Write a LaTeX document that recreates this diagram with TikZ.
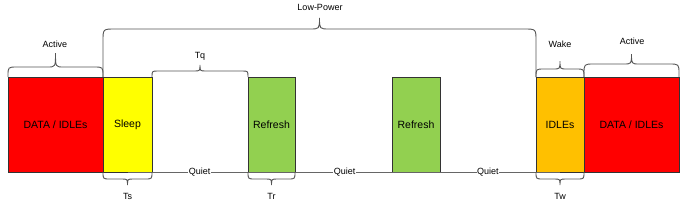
\documentclass[tikz,border=0pt]{standalone}
\usepackage{fontspec}
\setmainfont{Liberation Sans}
\definecolor{cred}{HTML}{FF0000}
\definecolor{cyellow}{HTML}{FFFF00}
\definecolor{cgreen}{HTML}{92D050}
\definecolor{corange}{HTML}{FFC000}
\definecolor{boxline}{HTML}{333333}
\definecolor{braceline}{HTML}{555555}
\definecolor{quietline}{HTML}{666666}
% top brace: x1 x2 ybase yline ytip r t
\newcommand\topbrace[7]{%
  \draw[bracestyle] (#1,#3) -- (#1,#4+#6) .. controls (#1,#4) .. (#1+#6,#4)
    -- ({(#1+#2)/2-#7},#4) .. controls ({(#1+#2)/2},#4) .. ({(#1+#2)/2},#5)
    .. controls ({(#1+#2)/2},#4) .. ({(#1+#2)/2+#7},#4)
    -- (#2-#6,#4) .. controls (#2,#4) .. (#2,#4+#6) -- (#2,#3);}
\newcommand\botbrace[7]{%
  \draw[bracestyle] (#1,#3) -- (#1,#4-#6) .. controls (#1,#4) .. (#1+#6,#4)
    -- ({(#1+#2)/2-#7},#4) .. controls ({(#1+#2)/2},#4) .. ({(#1+#2)/2},#5)
    .. controls ({(#1+#2)/2},#4) .. ({(#1+#2)/2+#7},#4)
    -- (#2-#6,#4) .. controls (#2,#4) .. (#2,#4-#6) -- (#2,#3);}
\begin{document}
\begin{tikzpicture}[x=1pt,y=-1pt,
  box/.style={draw=boxline, line width=0.8pt, inner sep=0pt, minimum height=95pt,
    font=\fontsize{10.5}{12}\selectfont},
  bracestyle/.style={draw=braceline, line width=0.9pt},
  lbl/.style={font=\fontsize{9}{11}\selectfont, inner sep=1pt},
  quiet/.style={draw=quietline, line width=1.1pt},
  qlbl/.style={font=\fontsize{9}{11}\selectfont, fill=white, inner sep=0.5pt}]
\useasboundingbox (0,0) rectangle (685,204);
\node[box, fill=cred, minimum width=95pt] (red1) at (55.5,124.5) {DATA / IDLEs};
\node[box, fill=cyellow, minimum width=49pt] (sleep) at (127.5,124.5) {Sleep};
\node[box, fill=cgreen, minimum width=47pt] (ref1) at (271.5,124.5) {Refresh};
\node[box, fill=cgreen, minimum width=48pt] (ref2) at (416,124.5) {Refresh};
\node[box, fill=corange, minimum width=48pt] (idles) at (560,124.5) {IDLEs};
\node[box, fill=cred, minimum width=95pt] (red2) at (631.5,124.5) {DATA / IDLEs};
\draw[quiet] (sleep.south) -- node[qlbl, pos=0.1667] (q1) {Quiet}
  node[qlbl, pos=0.502] (q2) {Quiet}
  node[qlbl, pos=0.833] (q3) {Quiet} (idles.south);
% braces
\topbrace{8}{103}{77}{67}{53}{9}{8}
\topbrace{103}{536}{77}{29}{18}{12}{10}
\topbrace{152}{248}{77}{71}{65}{6}{6}
\topbrace{536}{584}{77}{69}{61}{8}{7}
\topbrace{584}{679}{77}{64}{54}{10}{8}
\botbrace{103}{152}{172}{179}{185}{7}{6}
\botbrace{248}{295}{172}{179}{185}{7}{6}
\botbrace{536}{584}{172}{179}{185}{7}{6}
% labels
\node[lbl] (lact1) at (55,44) {Active};
\node[lbl] (llp) at (320,7) {Low-Power};
\node[lbl] (ltq) at (200,56) {Tq};
\node[lbl] (lwake) at (560,44) {Wake};
\node[lbl] (lact2) at (632,41) {Active};
\node[lbl] (lts) at (127.5,196) {Ts};
\node[lbl] (ltr) at (271.5,196) {Tr};
\node[lbl] (ltw) at (560,196) {Tw};
\end{tikzpicture}
\end{document}
